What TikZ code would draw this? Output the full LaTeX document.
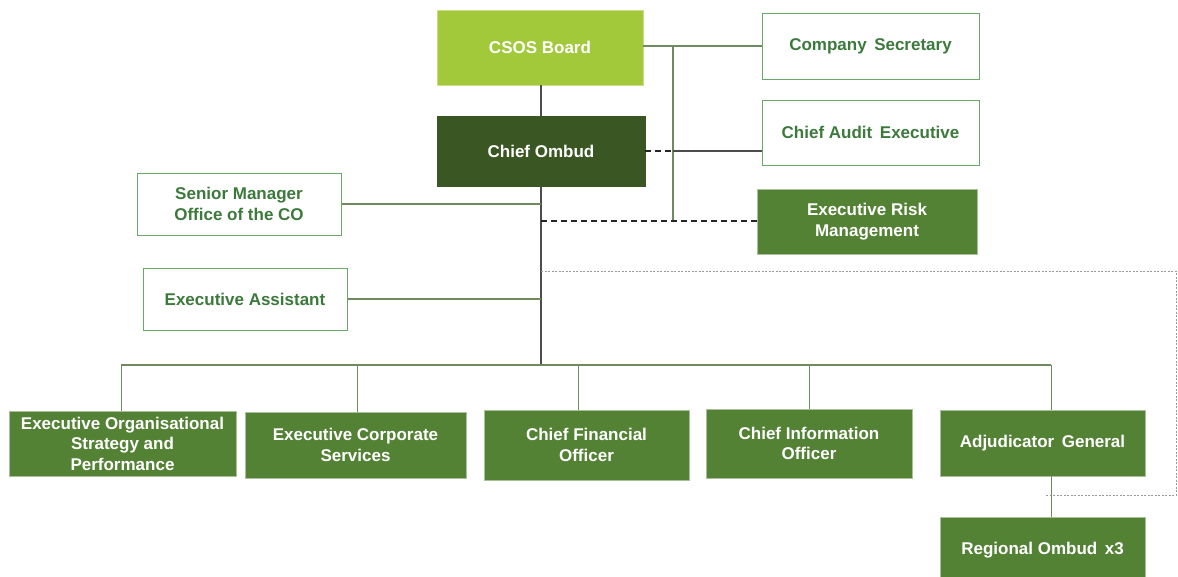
\documentclass[tikz,border=0pt]{standalone}
\usepackage{fontspec}
\setmainfont{Liberation Sans}

\definecolor{boardgreen}{HTML}{A2C93A}
\definecolor{ombudgreen}{HTML}{3A5622}
\definecolor{unitgreen}{HTML}{548235}
\definecolor{inkgreen}{HTML}{3C7A3C}
\definecolor{rimgreen}{HTML}{6AA86A}
\definecolor{busgreen}{HTML}{6F8A5E}

\tikzset{
  box/.style={rectangle,draw,align=center,inner sep=0pt,
    font=\bfseries\fontsize{17}{20.5}\selectfont},
  officebox/.style={box,fill=white,draw=rimgreen,line width=1pt,text=inkgreen},
  unitbox/.style={box,fill=unitgreen,draw=unitgreen!50!white,line width=0.8pt,text=white},
  trunk/.style={draw=black!70,line width=1.4pt},
  bus/.style={draw=busgreen,line width=1.4pt},
  drop/.style={draw=busgreen,line width=0.9pt},
  dashlink/.style={draw=black!85,line width=1.2pt,dash pattern=on 6pt off 4pt},
  dotlink/.style={draw=black!40,line width=0.8pt,dash pattern=on 2pt off 1.5pt}
}

\begin{document}
\begin{tikzpicture}[x=1pt,y=-1pt]
  \useasboundingbox (0,0) rectangle (1178,576);

  % top of the chart
  \node [box,fill=boardgreen,draw=boardgreen!60!white,text=white,minimum width=206,minimum height=75] (board) at (540,47.5) {CSOS Board};
  \node [box,fill=ombudgreen,draw=ombudgreen,text=white,minimum width=208,minimum height=70] (ombud) at (541,151) {Chief Ombud};

  \node [officebox,minimum width=217,minimum height=66] (cosec) at (870.5,46) {Company\, Secretary};
  \node [officebox,minimum width=217,minimum height=65] (cae) at (870.5,132.5) {Chief Audit\, Executive};
  \node [unitbox,minimum width=220,minimum height=65] (erm) at (867,221.5) {Executive Risk\\Management};

  \node [officebox,minimum width=204,minimum height=62] (smo) at (239,204) {Senior Manager\\Office of the CO};
  \node [officebox,minimum width=204,minimum height=62] (ea) at (245,299) {Executive Assistant};

  % bottom row
  \node [unitbox,minimum width=227,minimum height=65] (eosp) at (122.5,443.5) {Executive Organisational\\Strategy and\\Performance};
  \node [unitbox,minimum width=221,minimum height=66] (ecs) at (355.5,445) {Executive Corporate\\Services};
  \node [unitbox,minimum width=205,minimum height=70] (cfo) at (586.5,445) {Chief Financial\\Officer};
  \node [unitbox,minimum width=206,minimum height=69] (cio) at (809,443.5) {Chief Information\\Officer};
  \node [unitbox,minimum width=205,minimum height=66] (ag) at (1042.5,443) {Adjudicator\, General};
  \node [unitbox,minimum width=205,minimum height=66] (reg) at (1042.5,550) {Regional Ombud\, x3};

  \coordinate (busL) at (121,365);
  \coordinate (busR) at (1051,365);
  \coordinate (audit) at (673,46);
  \coordinate (risk) at (541,221);
  \coordinate (dotA) at (541,271);
  \coordinate (dotB) at (1176,271);
  \coordinate (dotC) at (1176,495);
  \coordinate (dotD) at (1046,495);

  % connectors
  \draw [trunk] (ombud.north |- board.south) -- (ombud.north);
  \draw [trunk] (ombud.south) -- (ombud.south |- busL);
  \draw [bus] (smo.east) -- (smo.east -| ombud.south);
  \draw [bus] (ea.east) -- (ea.east -| ombud.south);
  \draw [bus] (board.east |- audit) -- (cosec.west |- audit);
  \draw [bus] (audit) -- (audit |- risk);
  \draw [dashlink] (ombud.east) -- (ombud.east -| audit);
  \draw [trunk] (ombud.east -| audit) -- (cae.west |- ombud.east);
  \draw [dashlink] (risk) -- (erm.west |- risk);
  \draw [dotlink] (dotA) -- (dotB) -- (dotC) -- (dotD);

  \draw [bus] (busL) -- (busR);
  \draw [drop] (busL) -- (busL |- eosp.north);
  \draw [drop] (357,365) -- (357,412);
  \draw [drop] (578,365) -- (578,410);
  \draw [drop] (cio.north |- busL) -- (cio.north);
  \draw [drop] (busR) -- (busR |- ag.north);
  \draw [drop] (busR |- ag.south) -- (busR |- reg.north);
\end{tikzpicture}
\end{document}
